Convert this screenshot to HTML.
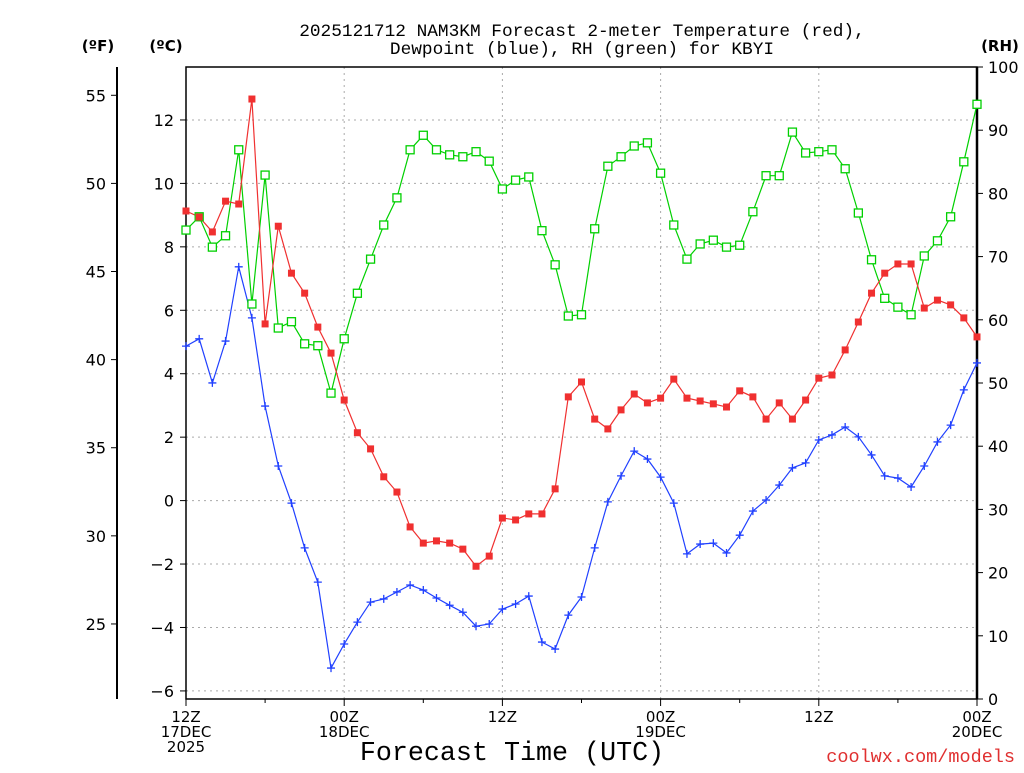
<!DOCTYPE html>
<html><head><meta charset="utf-8"><style>
html,body{margin:0;padding:0;background:#fff;}
svg text{font-family:"DejaVu Sans","Liberation Sans",sans-serif;}
svg text.mono{font-family:"Liberation Mono","DejaVu Sans Mono",monospace;}
</style></head><body>
<svg id="chart" width="1024" height="768" xmlns="http://www.w3.org/2000/svg">
<text class="mono" x="582" y="36" font-size="17.8" text-anchor="middle" fill="#000">2025121712 NAM3KM Forecast 2-meter Temperature (red),</text>
<text class="mono" x="582" y="54" font-size="17.8" text-anchor="middle" fill="#000">Dewpoint (blue), RH (green) for KBYI</text>
<text x="98" y="51" font-size="15" font-weight="bold" text-anchor="middle">(ºF)</text>
<text x="166" y="51" font-size="15" font-weight="bold" text-anchor="middle">(ºC)</text>
<text x="1000" y="51" font-size="15" font-weight="bold" text-anchor="middle">(RH)</text>
<g id="grid"></g><g id="axes"></g><g id="series"></g>
<text class="mono" x="512" y="760" font-size="26.7" text-anchor="middle">Forecast Time (UTC)</text>
<text class="mono" x="1015" y="762" font-size="18.5" text-anchor="end" fill="#e03030">coolwx.com/models</text>
</svg>
<script>
const tempC=[9.13,8.94,8.47,9.44,9.35,12.66,5.57,8.65,7.17,6.54,5.47,4.65,3.17,2.14,1.63,0.75,0.27,-0.83,-1.34,-1.27,-1.34,-1.53,-2.07,-1.75,-0.55,-0.61,-0.42,-0.42,0.37,3.27,3.74,2.57,2.26,2.86,3.36,3.08,3.23,3.83,3.23,3.14,3.05,2.95,3.46,3.27,2.57,3.08,2.57,3.17,3.86,3.96,4.75,5.63,6.54,7.17,7.46,7.46,6.07,6.32,6.17,5.76,5.16];
const dewC=[4.87,5.1,3.71,5.03,7.37,5.76,2.98,1.09,-0.08,-1.49,-2.57,-5.28,-4.52,-3.83,-3.2,-3.1,-2.88,-2.66,-2.82,-3.07,-3.3,-3.52,-3.96,-3.89,-3.42,-3.26,-3.01,-4.46,-4.68,-3.61,-3.04,-1.49,-0.04,0.78,1.56,1.31,0.74,-0.08,-1.68,-1.37,-1.34,-1.65,-1.09,-0.33,0.02,0.49,1.03,1.19,1.91,2.07,2.32,2.01,1.44,0.78,0.71,0.43,1.09,1.85,2.38,3.49,4.34];
const rh=[74.2,76.3,71.5,73.3,86.9,62.5,82.9,58.7,59.7,56.2,55.9,48.4,57,64.2,69.6,75,79.3,86.9,89.2,86.9,86.1,85.8,86.6,85.1,80.7,82.1,82.6,74.1,68.7,60.6,60.8,74.4,84.3,85.8,87.5,88,83.2,75,69.6,72,72.6,71.5,71.8,77.1,82.8,82.8,89.7,86.4,86.6,86.9,83.9,76.9,69.5,63.4,62,60.8,70.1,72.5,76.3,85,94.1];
const cTicks=[-6,-4,-2,0,2,4,6,8,10,12];
const fTicks=[25,30,35,40,45,50,55];
const rhTicks=[0,10,20,30,40,50,60,70,80,90,100];
const xLabels=[["12Z","17DEC","2025"],["00Z","18DEC"],["12Z",""],["00Z","19DEC"],["12Z",""],["00Z","20DEC"]];
const NS="http://www.w3.org/2000/svg";
const L=186,R=977,T=67,B=699;
const xs=i=>L+(R-L)*i/60;
const yC=c=>500.6-c*31.72;
const yF=f=>yC((f-32)*5/9);
const yRH=r=>B-(B-T)*r/100;
function mk(tag,at,parent){const e=document.createElementNS(NS,tag);for(const k in at)e.setAttribute(k,at[k]);document.getElementById(parent).appendChild(e);return e;}
cTicks.forEach(c=>{const e=mk('line',{x1:L,x2:R,y1:yC(c),y2:yC(c),stroke:'#aaa','stroke-dasharray':'2,4'},'grid');

});
[12,24,36,48].forEach(h=>{const e=mk('line',{x1:xs(h),x2:xs(h),y1:T,y2:B,stroke:'#aaa','stroke-dasharray':'2,4'},'grid');

});
let fr=mk('rect',{x:L,y:T,width:R-L,height:B-T,fill:'none',stroke:'#000','stroke-width':1.5},'axes');


let ra=mk('line',{x1:R,x2:R,y1:T,y2:B,stroke:'#000','stroke-width':2.5},'axes');


let fa=mk('line',{x1:117,x2:117,y1:T,y2:B,stroke:'#000','stroke-width':2},'axes');


cTicks.forEach(c=>{mk('line',{x1:L-6,x2:L,y1:yC(c),y2:yC(c),stroke:'#000'},'axes');
const t=mk('text',{x:L-12,y:yC(c)+6,'font-size':16,'text-anchor':'end'},'axes');t.textContent=(c<0?'\u2212'+(-c):c);

});
fTicks.forEach(f=>{mk('line',{x1:111,x2:117,y1:yF(f),y2:yF(f),stroke:'#000'},'axes');
const t=mk('text',{x:106,y:yF(f)+6,'font-size':16,'text-anchor':'end'},'axes');t.textContent=f;

});
rhTicks.forEach(r=>{mk('line',{x1:R,x2:R+6,y1:yRH(r),y2:yRH(r),stroke:'#000'},'axes');
const t=mk('text',{x:988,y:yRH(r)+6,'font-size':16,'text-anchor':'start'},'axes');t.textContent=r;

});
for(let h=0;h<=60;h+=6){mk('line',{x1:xs(h),x2:xs(h),y1:B,y2:B+(h%12?4:7),stroke:'#000'},'axes');}
xLabels.forEach((lb,k)=>{lb.forEach((s,j)=>{if(!s)return;const t=mk('text',{x:xs(k*12),y:722+j*15,'font-size':15,'text-anchor':'middle'},'axes');t.textContent=s;

});});
function line(arr,yf,col,name){const p=arr.map((v,i)=>xs(i).toFixed(1)+','+yf(v).toFixed(1)).join(' ');
const e=mk('polyline',{points:p,fill:'none',stroke:col,'stroke-width':1.2},'series');

}
line(rh,yRH,'#00d000','rh-line');
line(tempC,yC,'#f03030','temperature-line');
line(dewC,yC,'#2040ff','dewpoint-line');
rh.forEach((v,i)=>{const e=mk('rect',{x:xs(i)-4,y:yRH(v)-4,width:8,height:8,fill:'#fff',stroke:'#00d000','stroke-width':1.3},'series');

});
tempC.forEach((v,i)=>{const e=mk('rect',{x:xs(i)-3.5,y:yC(v)-3.5,width:7,height:7,fill:'#f03030'},'series');

});
dewC.forEach((v,i)=>{const x=xs(i),y=yC(v);const e=mk('path',{d:`M${x-4},${y}H${x+4}M${x},${y-4}V${y+4}`,stroke:'#2040ff','stroke-width':1.3},'series');

});
</script>
</body></html>
